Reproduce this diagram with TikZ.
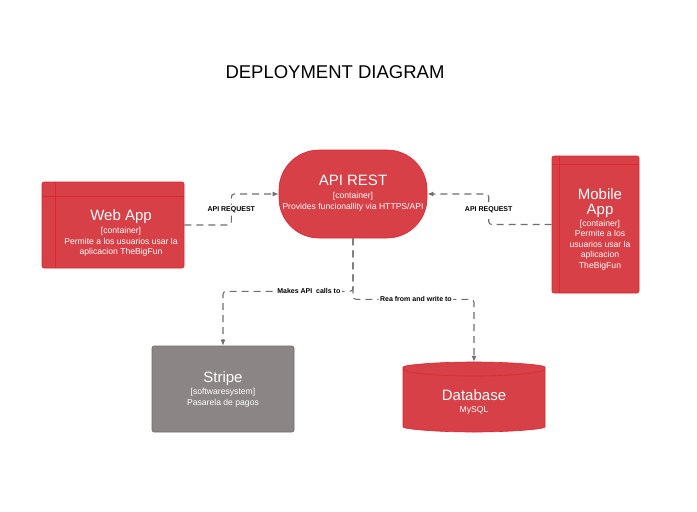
\documentclass[tikz,border=0pt]{standalone}
\usepackage{fontspec}
\setmainfont{Liberation Sans}
\usetikzlibrary{arrows.meta}
\definecolor{apired}{RGB}{214,64,70}
\definecolor{apiline}{RGB}{222,38,48}
\definecolor{stripegray}{RGB}{139,133,134}
\definecolor{linkgray}{RGB}{110,110,110}
\newcommand{\bigname}[1]{{\fontsize{15}{15}\selectfont #1}}

\begin{document}
\begin{tikzpicture}[x=1pt, y=-1pt,
        every node/.style={inner sep=0pt, font=\fontsize{8.6}{10.5}\selectfont},
        box/.style={draw=apiline, fill=apired, rounded corners=2pt, line width=0.6pt},
        boxtext/.style={text=white, align=center},
        link/.style={draw=linkgray, line width=1.1pt, dash pattern=on 7pt off 5pt,
            rounded corners=3pt, -{Latex[length=6pt, width=5pt]}},
        linklabel/.style={fill=white, inner sep=1.5pt, font=\fontsize{7}{8}\selectfont\bfseries}]
    \useasboundingbox (0,0) rectangle (697,512);

    % Title
    \node (title) at (335,72) {\fontsize{18.5}{20}\selectfont DEPLOYMENT DIAGRAM};

    % Containers
    \node[box, minimum width=142pt, minimum height=86pt] (webapp) at (113,225) {};
    \draw[apiline, line width=0.6pt] ([xshift=14pt]webapp.north west) -- ([xshift=14pt]webapp.south west);
    \draw[apiline, line width=0.6pt] ([yshift=-15pt]webapp.north west) -- ([yshift=-15pt]webapp.north east);
    \node[boxtext] (webapptext) at (121,233)
        {\bigname{Web App}\\[3pt] [container]\\ Permite a los usuarios usar la\\ aplicacion TheBigFun};

    \node[box, rounded corners=40pt, minimum width=148pt, minimum height=88pt] (api) at (353,194) {};
    \node[boxtext] (apitext) at (353,193)
        {\bigname{API REST}\\[3pt] [container]\\ Provides funcionallity via HTTPS/API};

    \node[box, minimum width=87pt, minimum height=137pt] (mobile) at (595.5,224.5) {};
    \draw[apiline, line width=0.6pt] ([xshift=8pt]mobile.north west) -- ([xshift=8pt]mobile.south west);
    \draw[apiline, line width=0.6pt] ([yshift=-9pt]mobile.north west) -- ([yshift=-9pt]mobile.north east);
    \node[boxtext] (mobiletext) at (600,229)
        {\bigname{Mobile}\\[5pt] \bigname{App}\\[1pt] [container]\\ Permite a los\\ usuarios usar la\\ aplicacion\\ TheBigFun};

    % External systems
    \node[box, draw=stripegray!80!black, fill=stripegray, minimum width=142pt, minimum height=86pt] (stripe) at (223,389) {};
    \node[boxtext] (stripetext) at (223,389)
        {\bigname{Stripe}\\[2pt] [softwaresystem]\\ Pasarela de pagos};

    % Database cylinder
    \node[minimum width=142pt, minimum height=70pt] (database) at (474,397) {};
    \draw[box] (403,369) -- (403,425) arc (180:0:71 and 7) -- (545,369) arc (360:180:71 and 7) -- cycle;
    \draw[apiline, line width=0.6pt] (403,369) arc (180:0:71 and 7);
    \node[boxtext] (databasetext) at (474,402)
        {\bigname{Database}\\[1pt] MySQL};

    % Connectors
    \draw[link] (webapp.east) -- ++(47,0) |- node[linklabel, pos=0.25] {API REQUEST} (api.west);
    \draw[link] (mobile.west) -- ++(-63,0) |- node[linklabel, pos=0.25] {API REQUEST} (api.east);
    \draw[link] (api.south) -- ++(0,53) -| node[linklabel, pos=0.17] {Makes API\ \ calls to} (stripe.north);
    \draw[link] (api.south) -- ++(0,61) -| node[linklabel, pos=0.26] {Rea from and write to} (database.north);
\end{tikzpicture}
\end{document}
